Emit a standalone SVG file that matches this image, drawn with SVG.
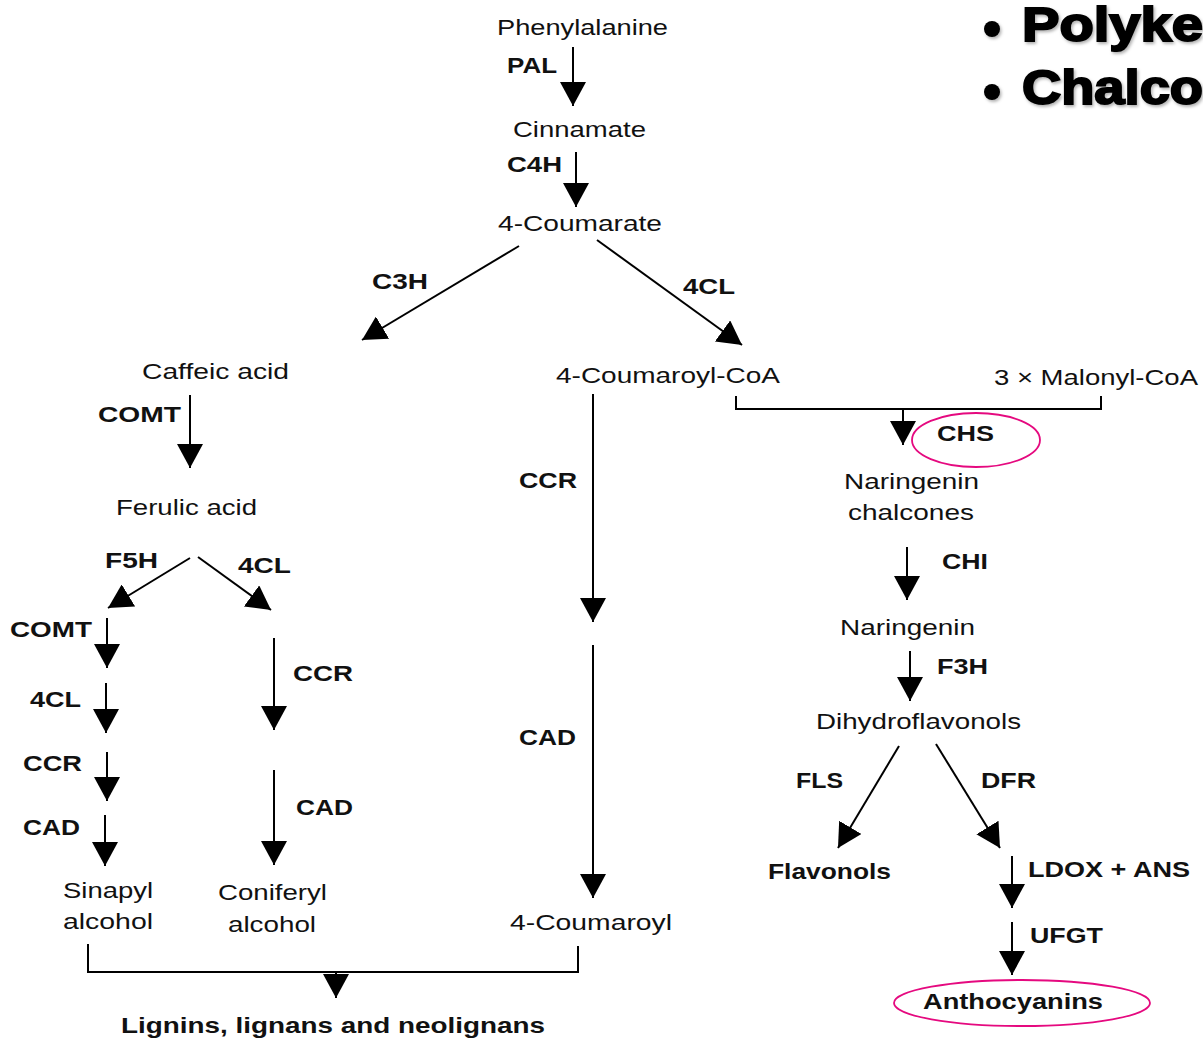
<svg xmlns="http://www.w3.org/2000/svg" width="1203" height="1038" viewBox="0 0 1203 1038">
<defs>
<marker id="ah" markerUnits="userSpaceOnUse" viewBox="0 0 24 26" refX="24" refY="13" markerWidth="24" markerHeight="26" orient="auto">
<path d="M0,0 L24,13 L0,26 Z" fill="#000"/>
</marker>
<filter id="sh" x="-10%" y="-20%" width="130%" height="160%">
<feDropShadow dx="1.5" dy="2" stdDeviation="1.5" flood-color="#000" flood-opacity="0.3"/>
</filter>
<style>
.t{font-family:"Liberation Sans",Arial,sans-serif;font-size:22px;fill:#111}
.b{font-family:"Liberation Sans",Arial,sans-serif;font-size:22px;font-weight:bold;fill:#111}
.h{font-family:"Liberation Sans",Arial,sans-serif;font-size:48px;font-weight:900;fill:#000;stroke:#000;stroke-width:2}
.c line,.c path{stroke:#000;stroke-width:2;fill:none}
.c line{marker-end:url(#ah)}
.e{fill:none;stroke:#e5097f;stroke-width:1.8}
</style>
</defs>
<rect width="1203" height="1038" fill="#fff"/>
<g id="header" filter="url(#sh)">
<circle cx="992" cy="29" r="8" fill="#000"/>
<text class="h" x="1022" y="41" textLength="181" lengthAdjust="spacingAndGlyphs">Polyke</text>
<circle cx="992" cy="92" r="8" fill="#000"/>
<text class="h" x="1022" y="104" textLength="181" lengthAdjust="spacingAndGlyphs">Chalco</text>
</g>
<g class="c" id="connectors">
<line x1="573" y1="47" x2="573" y2="106"/>
<line x1="576" y1="152" x2="576" y2="207"/>
<line x1="519" y1="246" x2="362" y2="340"/>
<line x1="597" y1="240" x2="742" y2="345"/>
<line x1="190" y1="395" x2="190" y2="468"/>
<line x1="190" y1="558" x2="108" y2="608"/>
<line x1="198" y1="557" x2="271" y2="610"/>
<line x1="107" y1="618" x2="107" y2="668"/>
<line x1="106" y1="683" x2="106" y2="733"/>
<line x1="107" y1="752" x2="107" y2="801"/>
<line x1="105" y1="815" x2="105" y2="866"/>
<line x1="274" y1="638" x2="274" y2="730"/>
<line x1="274" y1="770" x2="274" y2="865"/>
<line x1="593" y1="394" x2="593" y2="622"/>
<line x1="593" y1="645" x2="593" y2="898"/>
<path d="M88,944 V972 H578 V946"/>
<line x1="336" y1="972" x2="336" y2="998"/>
<path d="M736,396 V409 H1101 V396"/>
<line x1="903" y1="409" x2="903" y2="445"/>
<line x1="907" y1="547" x2="907" y2="600"/>
<line x1="910" y1="651" x2="910" y2="701"/>
<line x1="899" y1="746" x2="838" y2="848"/>
<line x1="936" y1="744" x2="1000" y2="848"/>
<line x1="1012" y1="856" x2="1012" y2="908"/>
<line x1="1012" y1="922" x2="1012" y2="975"/>
</g>
<g id="phenylalanine"><text class="t" x="497" y="35" textLength="171" lengthAdjust="spacingAndGlyphs">Phenylalanine</text></g>
<g id="pal"><text class="b" x="507" y="73" textLength="50" lengthAdjust="spacingAndGlyphs">PAL</text></g>
<g id="cinnamate"><text class="t" x="513" y="137" textLength="133" lengthAdjust="spacingAndGlyphs">Cinnamate</text></g>
<g id="c4h"><text class="b" x="507" y="172" textLength="55" lengthAdjust="spacingAndGlyphs">C4H</text></g>
<g id="coumarate"><text class="t" x="498" y="231" textLength="164" lengthAdjust="spacingAndGlyphs">4-Coumarate</text></g>
<g id="c3h"><text class="b" x="372" y="289" textLength="56" lengthAdjust="spacingAndGlyphs">C3H</text></g>
<g id="fourcl1"><text class="b" x="683" y="294" textLength="52" lengthAdjust="spacingAndGlyphs">4CL</text></g>
<g id="caffeic"><text class="t" x="142" y="379" textLength="147" lengthAdjust="spacingAndGlyphs">Caffeic acid</text></g>
<g id="comt1"><text class="b" x="98" y="422" textLength="83" lengthAdjust="spacingAndGlyphs">COMT</text></g>
<g id="ferulic"><text class="t" x="116" y="515" textLength="141" lengthAdjust="spacingAndGlyphs">Ferulic acid</text></g>
<g id="f5h"><text class="b" x="105" y="568" textLength="53" lengthAdjust="spacingAndGlyphs">F5H</text></g>
<g id="fourcl2"><text class="b" x="238" y="573" textLength="53" lengthAdjust="spacingAndGlyphs">4CL</text></g>
<g id="comt2"><text class="b" x="10" y="637" textLength="82" lengthAdjust="spacingAndGlyphs">COMT</text></g>
<g id="fourcl3"><text class="b" x="30" y="707" textLength="51" lengthAdjust="spacingAndGlyphs">4CL</text></g>
<g id="ccr1"><text class="b" x="23" y="771" textLength="59" lengthAdjust="spacingAndGlyphs">CCR</text></g>
<g id="cad1"><text class="b" x="23" y="835" textLength="57" lengthAdjust="spacingAndGlyphs">CAD</text></g>
<g id="sinapyl"><text class="t" x="63" y="898" textLength="90" lengthAdjust="spacingAndGlyphs">Sinapyl</text><text class="t" x="63" y="929" textLength="90" lengthAdjust="spacingAndGlyphs">alcohol</text></g>
<g id="ccr2"><text class="b" x="293" y="681" textLength="60" lengthAdjust="spacingAndGlyphs">CCR</text></g>
<g id="cad2"><text class="b" x="296" y="815" textLength="57" lengthAdjust="spacingAndGlyphs">CAD</text></g>
<g id="coniferyl"><text class="t" x="218" y="900" textLength="109" lengthAdjust="spacingAndGlyphs">Coniferyl</text><text class="t" x="228" y="932" textLength="88" lengthAdjust="spacingAndGlyphs">alcohol</text></g>
<g id="coumaroylcoa"><text class="t" x="556" y="383" textLength="224" lengthAdjust="spacingAndGlyphs">4-Coumaroyl-CoA</text></g>
<g id="ccr3"><text class="b" x="519" y="488" textLength="58" lengthAdjust="spacingAndGlyphs">CCR</text></g>
<g id="cad3"><text class="b" x="519" y="745" textLength="57" lengthAdjust="spacingAndGlyphs">CAD</text></g>
<g id="coumaroyl"><text class="t" x="510" y="930" textLength="162" lengthAdjust="spacingAndGlyphs">4-Coumaroyl</text></g>
<g id="lignins"><text class="b" x="121" y="1033" textLength="424" lengthAdjust="spacingAndGlyphs">Lignins, lignans and neolignans</text></g>
<g id="malonyl"><text class="t" x="994" y="385" textLength="204" lengthAdjust="spacingAndGlyphs">3 × Malonyl-CoA</text></g>
<g id="chs"><ellipse class="e" cx="976" cy="440" rx="64" ry="27"/><text class="b" x="937" y="441" textLength="57" lengthAdjust="spacingAndGlyphs">CHS</text></g>
<g id="chalcones"><text class="t" x="844" y="489" textLength="135" lengthAdjust="spacingAndGlyphs">Naringenin</text><text class="t" x="848" y="520" textLength="126" lengthAdjust="spacingAndGlyphs">chalcones</text></g>
<g id="chi"><text class="b" x="942" y="569" textLength="46" lengthAdjust="spacingAndGlyphs">CHI</text></g>
<g id="naringenin"><text class="t" x="840" y="635" textLength="135" lengthAdjust="spacingAndGlyphs">Naringenin</text></g>
<g id="f3h"><text class="b" x="937" y="674" textLength="51" lengthAdjust="spacingAndGlyphs">F3H</text></g>
<g id="dihydroflavonols"><text class="t" x="816" y="729" textLength="205" lengthAdjust="spacingAndGlyphs">Dihydroflavonols</text></g>
<g id="fls"><text class="b" x="796" y="788" textLength="47" lengthAdjust="spacingAndGlyphs">FLS</text></g>
<g id="dfr"><text class="b" x="981" y="788" textLength="55" lengthAdjust="spacingAndGlyphs">DFR</text></g>
<g id="flavonols"><text class="b" x="768" y="879" textLength="123" lengthAdjust="spacingAndGlyphs">Flavonols</text></g>
<g id="ldox"><text class="b" x="1028" y="877" textLength="162" lengthAdjust="spacingAndGlyphs">LDOX + ANS</text></g>
<g id="ufgt"><text class="b" x="1030" y="943" textLength="73" lengthAdjust="spacingAndGlyphs">UFGT</text></g>
<g id="anthocyanins"><ellipse class="e" cx="1022" cy="1003" rx="128" ry="23"/><text class="b" x="923" y="1009" textLength="180" lengthAdjust="spacingAndGlyphs">Anthocyanins</text></g>
</svg>
